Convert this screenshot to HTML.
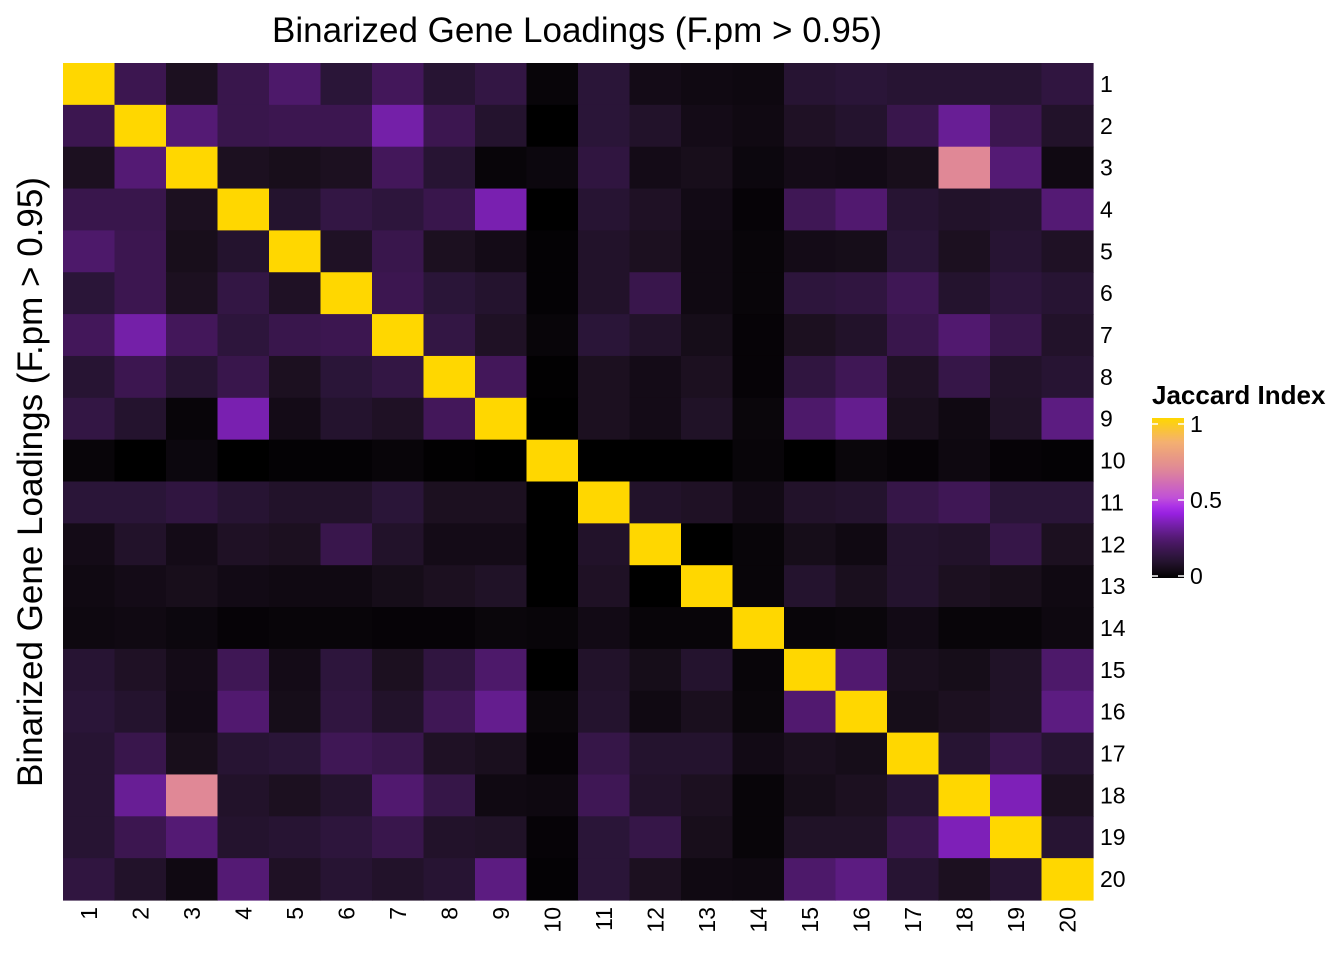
<!DOCTYPE html>
<html><head><meta charset="utf-8">
<style>
body{margin:0;background:#fff;}
svg{display:block;font-family:"Liberation Sans",Arial,sans-serif;}
</style></head>
<body>
<svg id="chart" width="1344" height="960" viewBox="0 0 1344 960">
<defs>
<linearGradient id="lg" x1="0" y1="1" x2="0" y2="0"></linearGradient>
</defs>
<text x="577" y="42" font-size="35" text-anchor="middle" fill="#000">Binarized Gene Loadings (F.pm &gt; 0.95)</text>
<text transform="translate(42,482) rotate(-90)" font-size="35" text-anchor="middle" fill="#000">Binarized Gene Loadings (F.pm &gt; 0.95)</text>
<g id="cells"></g>
<g id="rowlabels"></g>
<g id="collabels"></g>
<g id="legend">
<text x="1152" y="404" font-size="26" font-weight="bold" fill="#000">Jaccard Index</text>
<rect x="1152" y="418" width="32" height="160" fill="url(#lg)"/>
<g id="legticks"></g>
</g>
</svg>
<script>
const labels = ["1","2","3","4","5","6","7","8","9","10","11","12","13","14","15","16","17","18","19","20"];
const upperValues = [
[1,0.18,0.07,0.17,0.23,0.12,0.2,0.11,0.15,0.02,0.12,0.05,0.04,0.035,0.11,0.12,0.11,0.11,0.11,0.14],
[0,1,0.25,0.17,0.18,0.18,0.33,0.18,0.1,0,0.12,0.09,0.05,0.04,0.08,0.1,0.17,0.3,0.18,0.09],
[0,0,1,0.07,0.06,0.07,0.2,0.11,0.02,0.03,0.14,0.05,0.06,0.03,0.05,0.045,0.06,0.68,0.25,0.04],
[0,0,0,1,0.1,0.15,0.13,0.17,0.34,0,0.11,0.08,0.045,0.015,0.19,0.24,0.11,0.09,0.1,0.25],
[0,0,0,0,1,0.08,0.17,0.07,0.05,0.01,0.09,0.07,0.04,0.02,0.05,0.055,0.12,0.07,0.11,0.08],
[0,0,0,0,0,1,0.18,0.12,0.1,0.01,0.09,0.17,0.04,0.02,0.13,0.14,0.19,0.1,0.13,0.11],
[0,0,0,0,0,0,1,0.15,0.08,0.02,0.12,0.09,0.055,0.015,0.07,0.09,0.17,0.24,0.17,0.09],
[0,0,0,0,0,0,0,1,0.2,0.005,0.07,0.05,0.07,0.015,0.14,0.19,0.08,0.16,0.09,0.11],
[0,0,0,0,0,0,0,0,1,0,0.07,0.05,0.085,0.025,0.23,0.29,0.065,0.04,0.085,0.27],
[0,0,0,0,0,0,0,0,0,1,0,0,0,0.02,0,0.025,0.015,0.035,0.015,0.01],
[0,0,0,0,0,0,0,0,0,0,1,0.09,0.08,0.045,0.09,0.1,0.16,0.19,0.12,0.12],
[0,0,0,0,0,0,0,0,0,0,0,1,0,0.02,0.055,0.04,0.1,0.09,0.16,0.07],
[0,0,0,0,0,0,0,0,0,0,0,0,1,0.02,0.1,0.065,0.1,0.07,0.06,0.04],
[0,0,0,0,0,0,0,0,0,0,0,0,0,1,0.02,0.025,0.045,0.02,0.02,0.035],
[0,0,0,0,0,0,0,0,0,0,0,0,0,0,1,0.24,0.065,0.055,0.085,0.23],
[0,0,0,0,0,0,0,0,0,0,0,0,0,0,0,1,0.055,0.07,0.085,0.27],
[0,0,0,0,0,0,0,0,0,0,0,0,0,0,0,0,1,0.11,0.17,0.11],
[0,0,0,0,0,0,0,0,0,0,0,0,0,0,0,0,0,1,0.35,0.07],
[0,0,0,0,0,0,0,0,0,0,0,0,0,0,0,0,0,0,1,0.11],
[0,0,0,0,0,0,0,0,0,0,0,0,0,0,0,0,0,0,0,1]
];
const legendTicks = [0, 0.5, 1];

const stops = [[0,[0,0,0]],[0.07,[28,16,32]],[0.12,[42,21,56]],[0.18,[60,22,80]],[0.25,[84,26,116]],[0.33,[116,32,168]],[0.42,[160,32,240]],[0.5,[192,80,216]],[0.68,[224,136,150]],[0.85,[244,176,112]],[1,[255,215,0]]];
function color(v){
  v=Math.max(0,Math.min(1,v));
  for(let i=1;i<stops.length;i++){
    if(v<=stops[i][0]){
      const a=stops[i-1],b=stops[i],t=(v-a[0])/(b[0]-a[0]);
      const c=a[1].map((x,k)=>Math.round(x+(b[1][k]-x)*t));
      return `rgb(${c[0]},${c[1]},${c[2]})`;
    }
  }
  return 'rgb(255,215,0)';
}
const NS="http://www.w3.org/2000/svg";
const x0=63,x1=1093,y0=63,y1=900;
const n=labels.length, cw=(x1-x0)/n, ch=(y1-y0)/n;
const xs=i=>x0+i*cw, ys=j=>y0+j*ch;
function val(r,c){return r<=c?upperValues[r][c]:upperValues[c][r];}

const cells=document.getElementById('cells');
for(let r=0;r<n;r++){
  for(let c=0;c<n;c++){
    const el=document.createElementNS(NS,'rect');
    el.setAttribute('x',xs(c));el.setAttribute('y',ys(r));
    el.setAttribute('width',cw+0.6);el.setAttribute('height',ch+0.6);
    el.setAttribute('fill',color(val(r,c)));
    
    
    cells.appendChild(el);
  }
}
const rl=document.getElementById('rowlabels');
labels.forEach((l,j)=>{
  const t=document.createElementNS(NS,'text');
  t.setAttribute('x',x1+7);t.setAttribute('y',ys(j)+ch/2+8);
  t.setAttribute('font-size','23');t.textContent=l;
  
  
  rl.appendChild(t);
});
const cl=document.getElementById('collabels');
labels.forEach((l,i)=>{
  const t=document.createElementNS(NS,'text');
  const cx=xs(i)+cw/2+8;
  t.setAttribute('transform',`translate(${cx},907) rotate(-90)`);
  t.setAttribute('text-anchor','end');
  t.setAttribute('font-size','23');t.textContent=l;
  
  
  cl.appendChild(t);
});
const lg=document.getElementById('lg');
for(let k=0;k<=20;k++){
  const s=document.createElementNS(NS,'stop');
  s.setAttribute('offset',k/20);s.setAttribute('stop-color',color(k/20));
  lg.appendChild(s);
}
const lt=document.getElementById('legticks');
const ly=v=>576-v*152;
legendTicks.forEach(v=>{
  const y=ly(v);
  [[1152,1158],[1178,1184]].forEach(([a,b])=>{
    const ln=document.createElementNS(NS,'line');
    ln.setAttribute('x1',a);ln.setAttribute('x2',b);ln.setAttribute('y1',y);ln.setAttribute('y2',y);
    ln.setAttribute('stroke','#fff');ln.setAttribute('stroke-width','1.5');
    
    
    lt.appendChild(ln);
  });
  const t=document.createElementNS(NS,'text');
  t.setAttribute('x',1190);t.setAttribute('y',y+8);t.setAttribute('font-size','23');
  t.textContent=String(v);
  
  
  lt.appendChild(t);
});
</script>
</body></html>
